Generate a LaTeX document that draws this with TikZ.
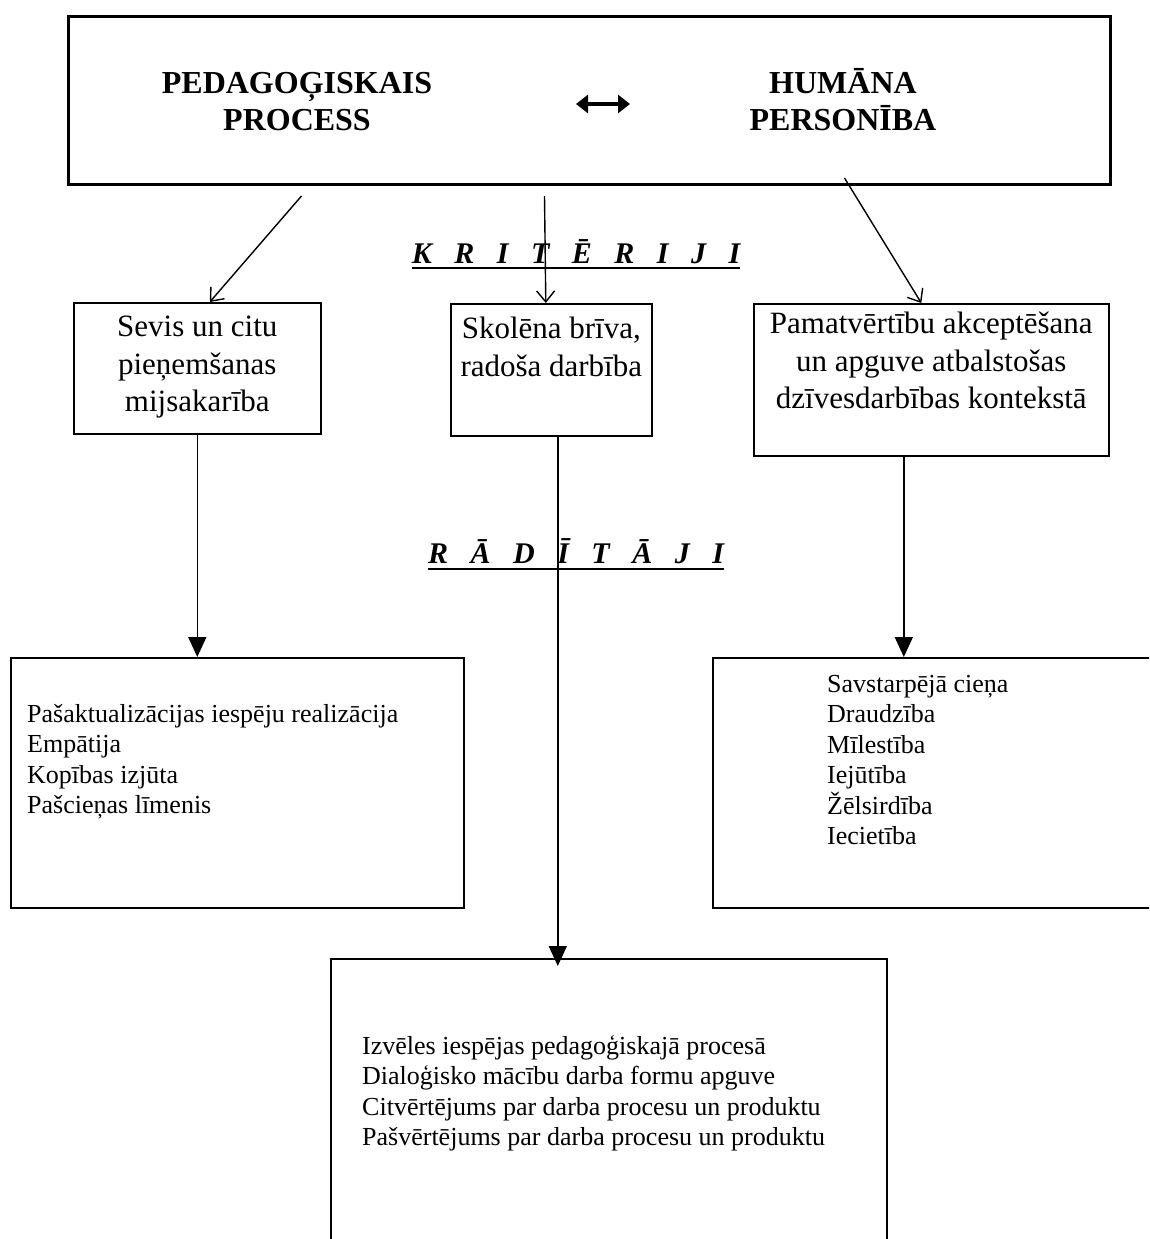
\documentclass[tikz,border=0pt]{standalone}
\usepackage{fontspec}
\setmainfont{Liberation Serif}
\usetikzlibrary{positioning}
\usetikzlibrary{arrows.meta}
\newcommand{\gap}{\hspace{0.75em}}
\begin{document}
\begin{tikzpicture}[x=1pt, y=-1pt, node distance=10pt,
  topbox/.style={draw, line width=3pt, anchor=north west, inner sep=0},
  critbox/.style={draw, line width=1.6pt, anchor=north west, inner sep=0},
  listbox/.style={draw, line width=1.6pt, anchor=north west, inner sep=0},
  headtext/.style={align=center, inner sep=0, font=\fontsize{32}{37}\selectfont\bfseries},
  crittext/.style={align=center, inner sep=0, font=\fontsize{31}{37.5}\selectfont},
  listtext/.style={align=left, inner sep=0, font=\fontsize{26}{30.5}\selectfont},
  rubric/.style={anchor=base, inner sep=0, font=\fontsize{30}{36}\selectfont\bfseries\itshape},
  underl/.style={line width=2.5pt},
  critlink/.style={line width=1.4pt, -{Straight Barb[length=11pt,width=18pt]}},
  downarrow/.style={line width=1.6pt, -{Triangle[length=20pt,width=18pt]}},
  dblarrow/.style={line width=4pt, {Triangle[length=12pt,width=18pt]}-{Triangle[length=12pt,width=18pt]}}]
\path[use as bounding box, fill=white] (0,0) rectangle (1149,1239);
\clip (0,0) rectangle (1149,1239);
\node[topbox, minimum width=1042pt, minimum height=168pt] (top) at (67,15) {};
\node[headtext] (ped) at (297,102) {PEDAGOĢISKAIS\\PROCESS};
\node[headtext] (hum) at (843,100) {HUMĀNA\\PERSONĪBA};
\coordinate (al) at (576,104);
\coordinate (ar) at (630,104);
\draw[dblarrow] (al) -- (ar);
\node[rubric] (krit) at (576,263) {K\gap R\gap I\gap T\gap Ē\gap R\gap I\gap J\gap I};
\draw[underl] ([yshift=-5pt]krit.base west) -- ([yshift=-5pt]krit.base east);
\node[critbox, minimum width=247pt, minimum height=131pt] (sevis) at (73,302) {};
\node[crittext, below=14pt of sevis.north] (sevist) {Sevis un citu\\pieņemšanas\\mijsakarība};
\node[critbox, minimum width=201pt, minimum height=132pt] (skol) at (450,303) {};
\node[crittext, below=14pt of skol.north] (skolt) {Skolēna brīva,\\radoša darbība};
\node[critbox, minimum width=355pt, minimum height=152pt] (pam) at (753,303) {};
\node[crittext, below=9pt of pam.north] (pamt) {Pamatvērtību akceptēšana\\un apguve atbalstošas\\dzīvesdarbības kontekstā};
\draw[critlink] ([xshift=-288pt,yshift=-10pt]top.south) -- ([xshift=12.5pt]sevis.north);
\draw[critlink] ([xshift=-45pt,yshift=-10pt]top.south) -- ([xshift=-5.5pt]skol.north);
\draw[critlink] ([xshift=255pt,yshift=8pt]top.south) -- ([xshift=-10pt]pam.north);
\node[rubric] (radi) at (576,563) {R\gap Ā\gap D\gap Ī\gap T\gap Ā\gap J\gap I};
\draw[underl] ([yshift=-6pt]radi.base west) -- ([yshift=-6pt]radi.base east);
\node[listbox, minimum width=453pt, minimum height=250pt] (lowl) at (10,657) {};
\node[listtext, below right=47pt and 17pt of lowl.north west] (lowlt) {Pašaktualizācijas iespēju realizācija\\Empātija\\Kopības izjūta\\Pašcieņas līmenis};
\node[listbox, minimum width=470pt, minimum height=250pt] (lowr) at (712,657) {};
\node[listtext, below right=18pt and 115pt of lowr.north west] (lowrt) {Savstarpējā cieņa\\Draudzība\\Mīlestība\\Iejūtība\\Žēlsirdība\\Iecietība};
\node[listbox, minimum width=556pt, minimum height=320pt] (bottom) at (330,958) {};
\node[listtext, below right=77pt and 32pt of bottom.north west] (bottomt) {Izvēles iespējas pedagoģiskajā procesā\\Dialoģisko mācību darba formu apguve\\Citvērtējums par darba procesu un produktu\\Pašvērtējums par darba procesu un produktu};
\draw[downarrow] (sevis.south) -- (sevis.south |- lowl.north);
\draw[downarrow] ([xshift=6.5pt]skol.south) -- ([xshift=-51pt,yshift=-8pt]bottom.north);
\draw[downarrow] ([xshift=-27.5pt]pam.south) -- ([xshift=-44pt]lowr.north);
\end{tikzpicture}
\end{document}
